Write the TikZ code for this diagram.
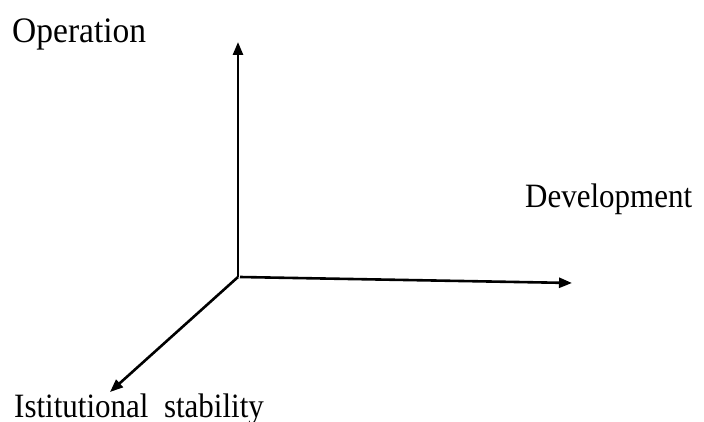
\documentclass[tikz,border=0pt]{standalone}
\usepackage{fontspec}
\usepackage{graphicx}
\setmainfont{Liberation Serif}
\usetikzlibrary{arrows.meta}
\tikzset{
  axis/.style={line width=2.6pt, -{Triangle[length=13pt,width=10pt]}},
  lbl/.style={anchor=base west, inner sep=0pt, font=\fontsize{31}{36}\selectfont}
}
\begin{document}
\begin{tikzpicture}[x=1pt,y=1pt]
\useasboundingbox (0,0) rectangle (704,421);
\coordinate (o) at (238,144);
\coordinate (oh) at (240,144);
\coordinate (up) at (238,379);
\coordinate (right) at (572,138);
\coordinate (down) at (110,29);
\draw[axis] (o) -- (up);
\draw[axis] (oh) -- (right);
\draw[axis] (o) -- (down);
\node[lbl, font=\fontsize{33.5}{38}\selectfont] (op) at (12,378) {\scalebox{1}[1.07]{Operation}};
\node[lbl] (dev) at (525,214) {\scalebox{1}[1.1]{Development}};
\node[lbl] (ist) at (14,4) {\scalebox{1}[1.1]{Istitutional\ \ stability}};
\end{tikzpicture}
\end{document}
